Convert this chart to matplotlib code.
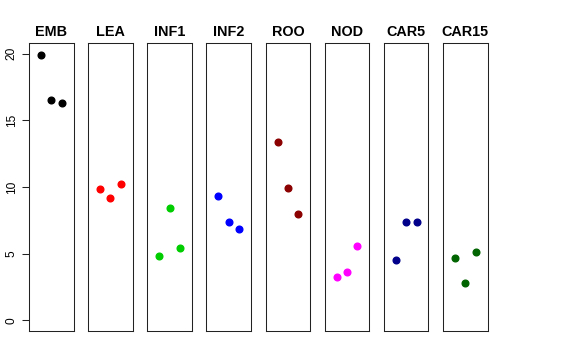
"""Strip chart of three replicate values per tissue, one panel per tissue."""

import matplotlib
matplotlib.use("Agg")
import matplotlib.pyplot as plt

plt.rcParams["font.family"] = ["Liberation Sans", "DejaVu Sans"]

tissues = ["EMB", "LEA", "INF1", "INF2", "ROO", "NOD", "CAR5", "CAR15"]
colors = ["black", "red", "#00CD00", "blue", "#8B0000", "magenta",
          "#00008B", "#006400"]

emb = [19.9, 16.5, 16.3]
lea = [9.85, 9.2, 10.2]
inf1 = [4.85, 8.45, 5.45]
inf2 = [9.35, 7.4, 6.85]
roo = [13.35, 9.95, 8.0]
nod = [3.25, 3.65, 5.6]
car5 = [4.55, 7.35, 7.4]
car15 = [4.7, 2.8, 5.1]
values = [emb, lea, inf1, inf2, roo, nod, car5, car15]

replicate = [1, 2, 3]
y_ticks = [0, 5, 10, 15, 20]

W, H = 576, 360
fig = plt.figure(figsize=(W / 100, H / 100), dpi=100)

left0, step, width = 29, 59.15, 44.6
top, bottom = 43, 331

for i, (name, col, vals) in enumerate(zip(tissues, colors, values)):
    x0 = left0 + i * step
    ax = fig.add_axes([x0 / W, 1 - bottom / H, width / W, (bottom - top) / H])
    ax.plot(replicate, vals, "o", color=col, ms=4.8, mec=col)
    ax.set_xlim(-0.16, 4.16)
    ax.set_ylim(-0.8, 20.8)
    ax.set_xticks([])
    ax.set_title(name, fontsize=10.4, fontweight="bold", pad=5)
    for sp in ax.spines.values():
        sp.set_linewidth(0.75)
        sp.set_color("#222222")
    if i == 0:
        ax.set_yticks(y_ticks)
        ax.set_yticklabels([str(t) for t in y_ticks], rotation=90,
                           va="center", fontsize=8.6)
        ax.tick_params(axis="y", length=5, width=0.75, pad=3,
                       color="#222222")
    else:
        ax.set_yticks([])

fig.savefig("out.png", dpi=100)
